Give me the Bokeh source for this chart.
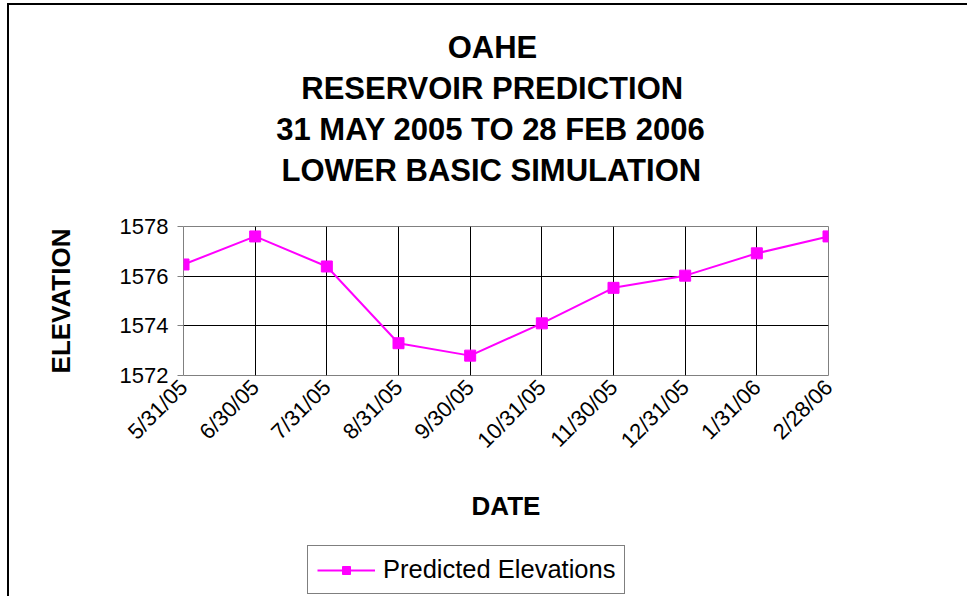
import math
from bokeh.plotting import figure
from bokeh.layouts import column
from bokeh.models import Range1d, FixedTicker, Title, Legend, LegendItem
from bokeh.embed import file_html
from bokeh.resources import INLINE

dates = ["5/31/05", "6/30/05", "7/31/05", "8/31/05", "9/30/05",
         "10/31/05", "11/30/05", "12/31/05", "1/31/06", "2/28/06"]
elevations = [1576.47, 1577.6, 1576.39, 1573.3, 1572.8,
              1574.1, 1575.53, 1576.02, 1576.92, 1577.6]
y_ticks = [1572, 1574, 1576, 1578]
title_lines = ["OAHE", "RESERVOIR PREDICTION",
               "31 MAY 2005 TO 28 FEB 2006", "LOWER BASIC SIMULATION"]
series_name = "Predicted Elevations"
x_title = "DATE"
y_title = "ELEVATION"

FONT = "Liberation Sans"
MAGENTA = "#FF00FF"
xs = list(range(len(dates)))

# approximate advance widths (em) of Liberation Sans Bold, used to centre titles
BOLD_EM = {" ": 0.278, "0": 0.556, "1": 0.556, "2": 0.556, "3": 0.556, "5": 0.556,
           "6": 0.556, "8": 0.556, "A": 0.722, "B": 0.722, "C": 0.722, "D": 0.722,
           "E": 0.667, "F": 0.611, "H": 0.722, "I": 0.278, "L": 0.611, "M": 0.833,
           "N": 0.722, "O": 0.778, "P": 0.667, "R": 0.722, "S": 0.667, "T": 0.611,
           "U": 0.722, "V": 0.667, "W": 0.944, "Y": 0.667}

W = 958
p = figure(width=W, height=525, output_backend="svg", toolbar_location=None,
           x_range=Range1d(0, len(dates) - 1), y_range=Range1d(y_ticks[0], y_ticks[-1]),
           min_border_left=174, min_border_right=139, min_border_top=221,
           min_border_bottom=155, title=None)
p.background_fill_color = "white"
p.border_fill_color = "white"
p.outline_line_color = "#808080"
p.outline_line_width = 1

r_line = p.line(xs, elevations, line_color=MAGENTA, line_width=2)
r_pts = p.scatter(xs, elevations, marker="square", size=11,
                  fill_color=MAGENTA, line_color=MAGENTA)

# x axis
p.xaxis.ticker = FixedTicker(ticks=xs)
p.xaxis.major_label_overrides = {i: d for i, d in enumerate(dates)}
p.xaxis.major_label_orientation = math.pi / 4
p.xaxis.major_label_text_font = FONT
p.xaxis.major_label_text_font_size = "22px"
p.xaxis.major_label_text_color = "black"
p.xaxis.major_label_standoff = 8
p.xaxis.major_tick_out = 0
p.xaxis.major_tick_in = 0
p.xaxis.minor_tick_line_color = None
p.xaxis.axis_line_color = None
p.xaxis.axis_label = x_title
p.xaxis.axis_label_text_font = FONT
p.xaxis.axis_label_text_font_size = "26px"
p.xaxis.axis_label_text_font_style = "bold"
p.xaxis.axis_label_text_color = "black"
p.xaxis.axis_label_standoff = 26

# y axis
p.yaxis.ticker = FixedTicker(ticks=y_ticks)
p.yaxis.major_label_text_font = FONT
p.yaxis.major_label_text_font_size = "22px"
p.yaxis.major_label_text_color = "black"
p.yaxis.major_label_standoff = 9
p.yaxis.major_tick_out = 6
p.yaxis.major_tick_in = 0
p.yaxis.major_tick_line_color = "#808080"
p.yaxis.minor_tick_line_color = None
p.yaxis.axis_line_color = None
p.yaxis.axis_label = y_title
p.yaxis.axis_label_text_font = FONT
p.yaxis.axis_label_text_font_size = "26px"
p.yaxis.axis_label_text_font_style = "bold"
p.yaxis.axis_label_text_color = "black"
p.yaxis.axis_label_standoff = 41

# grids
p.xgrid.ticker = FixedTicker(ticks=xs)
p.ygrid.ticker = FixedTicker(ticks=y_ticks)
for g in (p.xgrid, p.ygrid):
    g.grid_line_color = "black"
    g.grid_line_width = 1

# spacer between frame and title block, then title lines stacked upward
p.add_layout(Title(text=" ", text_font_size="1px", standoff=34), "above")
TITLE_PX = 31
centre_from_frame_left = 309
for t in reversed(title_lines):
    w = sum(BOLD_EM.get(c, 0.6) for c in t) * TITLE_PX
    p.add_layout(Title(text=t, align="left", offset=centre_from_frame_left - w / 2,
                       text_font=FONT, text_font_size=f"{TITLE_PX}px",
                       text_font_style="bold", text_color="black",
                       standoff=4), "above")

# legend strip below the chart (its frame is aligned with the chart's frame)
p2 = figure(width=W, height=66, output_backend="svg", toolbar_location=None,
            x_range=Range1d(100, 101), y_range=Range1d(0, 1),
            x_axis_type=None, y_axis_type=None, min_border=0, title=None)
p2.grid.visible = False
p2.outline_line_color = None
p2.background_fill_color = "white"
p2.border_fill_color = "white"
l_line = p2.line(xs, elevations, line_color=MAGENTA, line_width=2)
l_pts = p2.scatter(xs, elevations, marker="square", size=11,
                   fill_color=MAGENTA, line_color=MAGENTA)
legend = Legend(items=[LegendItem(label=series_name, renderers=[l_line, l_pts])],
                location=(124, 2), glyph_width=58, glyph_height=20, label_height=28,
                label_standoff=8, padding=9, spacing=0, margin=0,
                border_line_color="black", border_line_width=1,
                label_text_font=FONT, label_text_font_size="25.5px",
                label_text_color="black",
                background_fill_color="white", background_fill_alpha=1)
p2.add_layout(legend)

layout = column(p, p2, spacing=0,
                styles={"border-left": "2px solid black", "border-top": "2px solid black",
                        "margin-left": "7px", "margin-top": "3px"})

open("out.html", "w").write(file_html(layout, INLINE))
